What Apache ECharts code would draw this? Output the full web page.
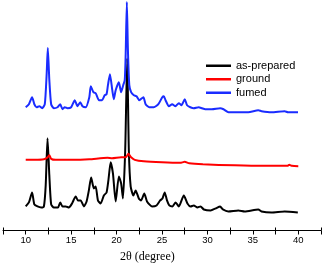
<!DOCTYPE html>
<html><head><meta charset="utf-8">
<script src="https://cdn.jsdelivr.net/npm/echarts@6/dist/echarts.min.js"></script>
<style>html,body{margin:0;padding:0;background:#fff}#c{width:324px;height:266px}</style>
</head><body><div id="c"></div>
<script>
const seriesNames = ['as-prepared', 'ground', 'fumed'];
const xTickLabels = [10, 15, 20, 25, 30, 35, 40];

const asPreparedX = [10.0,10.35,10.7,10.95,11.3,11.7,12.0,12.2,12.4,12.6,12.8,13.1,13.55,13.8,14.05,14.4,14.75,15.1,15.5,15.75,16.05,16.4,16.7,16.95,17.2,17.5,17.7,17.95,18.25,18.6,18.9,19.1,19.35,19.6,19.9,20.25,20.5,20.7,20.95,21.17,21.35,21.55,21.85,22.1,22.45,22.7,23.05,23.35,23.9,24.4,24.8,25.05,25.3,25.55,25.8,26.15,26.5,26.85,27.4,27.8,28.15,28.5,28.9,29.25,29.6,30.35,30.9,31.4,31.7,32.3,33.4,34.1,35.6,35.95,37.05,38.5,39.95];
const asPreparedY = [24,28,38,26,24,23,24,45,92,55,26,23,23,28,24,24,23,27,34,30,30,24,29,40,53,42,44,30,27,35,38,50,68,57,29,54,47,32,80,172,80,44,35,40,32,30,37,29,24,25,30,32,38,30,25,24,28,24,35,27,24,25,23,24,21,20,22,24,21,19,20,19,21,19,18,19,18];

const groundX = [10.0,11.0,12.0,12.4,12.6,12.8,13.3,15.0,17.0,19.0,19.5,20.5,21.0,21.3,21.6,22.0,23.0,25.0,27.0,27.5,28.0,29.5,33.0,36.0,38.8,39.0,39.3,40.0];
const groundY = [70.5,70.5,71,73,75,71.5,70.5,70.5,71,72.5,72,73,73,76.5,73,70.5,69,68,67.5,68.5,67,66,65,64.5,64.5,65.5,64.5,64.2];

const fumedX = [10.0,10.35,10.7,10.95,11.2,11.5,11.8,12.1,12.3,12.43,12.6,12.8,13.1,13.5,13.8,14.05,14.3,14.6,15.0,15.4,15.7,16.0,16.25,16.6,17.0,17.16,17.45,17.7,18.07,18.4,18.7,18.9,19.05,19.27,19.53,19.7,19.9,20.25,20.5,20.73,20.9,21.0,21.13,21.25,21.4,21.6,21.9,22.2,22.5,22.95,23.2,23.6,24.1,24.6,25.03,25.2,25.39,25.76,26.12,26.48,26.85,27.14,27.51,27.76,28.12,28.49,29.04,29.4,29.76,30.49,31.4,31.77,32.32,33.41,34.5,35.6,35.96,37.05,38.5,38.87,39.97];
const fumedY = [123,126,133,126,123,124,122,126,155,182,150,126,122,123,126,121,123,122,123,130,124,128,124,123,133,144,138,137,130,130,135,136,145,156,140,131,140,148,138,145,150,175,228,180,145,138,135,134,130,133,126,123,123,126,133,134,130,124,126,124,127,125,131,125,123,122,123,122,121,121,122,121,118,118,118,120,119,118,119,118,118];

const zip = (xs, ys) => xs.map((x, i) => [x, ys[i]]);

const chart = echarts.init(document.getElementById('c'), null, {renderer: 'canvas'});
const baseAxis = {
  type: 'value', min: 7.5, max: 42.5, splitLine: {show: false}
};
chart.setOption({
  animation: false,
  grid: {left: 2, right: 2, top: 0, bottom: 35.5},
  legend: {
    orient: 'vertical', left: 201, top: 54, itemGap: 0,
    itemWidth: 25, itemHeight: 2.5, icon: 'rect',
    textStyle: {fontFamily: 'Liberation Sans', fontSize: 11, color: '#000', lineHeight: 13.5},
    data: seriesNames
  },
  xAxis: [
    Object.assign({}, baseAxis, {
      interval: 2.5,
      axisLine: {lineStyle: {color: '#000', width: 1}},
      axisTick: {length: 4, lineStyle: {color: '#000'}},
      axisLabel: {
        margin: 5, fontFamily: 'Liberation Sans', fontSize: 9.5, color: '#000',
        formatter: v => xTickLabels.indexOf(v) >= 0 ? String(v) : ''
      }
    }),
    Object.assign({}, baseAxis, {
      interval: 5, position: 'bottom',
      axisLine: {show: false},
      axisTick: {inside: true, length: 3, lineStyle: {color: '#000'}},
      axisLabel: {show: false}
    })
  ],
  yAxis: {type: 'value', min: 0, max: 230, show: false},
  graphic: [{
    type: 'text', left: 120, top: 251,
    style: {text: '2θ (degree)', font: '12px "Liberation Serif"', fill: '#000'}
  }],
  series: [
    {name: seriesNames[0], type: 'line', data: zip(asPreparedX, asPreparedY), showSymbol: false, smooth: 0.2,
     lineStyle: {color: '#000', width: 2}, itemStyle: {color: '#000'}},
    {name: seriesNames[1], type: 'line', data: zip(groundX, groundY), showSymbol: false, smooth: 0.2,
     lineStyle: {color: '#ff0000', width: 2}, itemStyle: {color: '#ff0000'}},
    {name: seriesNames[2], type: 'line', data: zip(fumedX, fumedY), showSymbol: false, smooth: 0.2,
     lineStyle: {color: '#1a2cff', width: 2}, itemStyle: {color: '#1a2cff'}}
  ]
});
</script></body></html>
